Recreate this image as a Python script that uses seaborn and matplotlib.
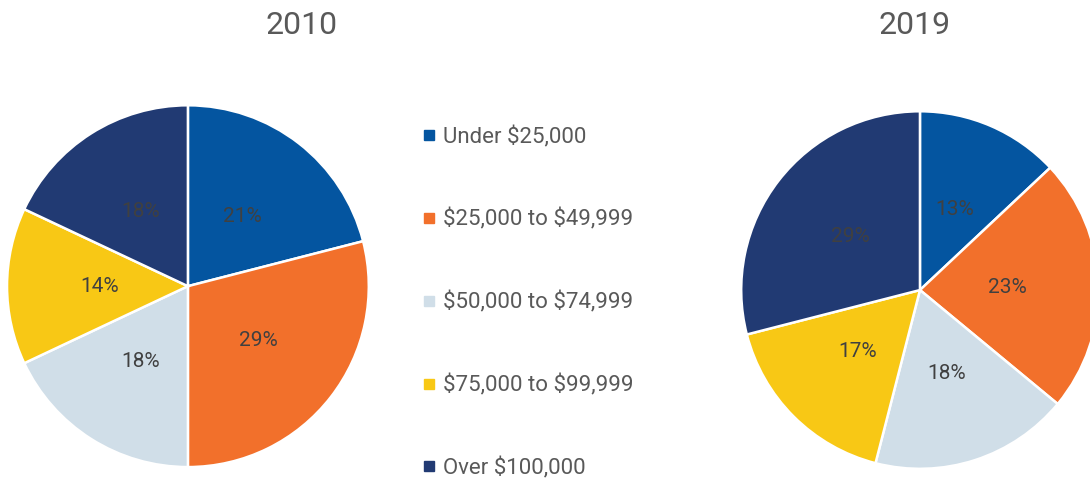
import matplotlib
matplotlib.use("Agg")
import matplotlib.pyplot as plt
import seaborn as sns
from matplotlib.lines import Line2D

# ==============================
# Data
# ==============================

categories = [
    "Under $25,000",
    "$25,000 to $49,999",
    "$50,000 to $74,999",
    "$75,000 to $99,999",
    "Over $100,000",
]
share_2010 = [21, 29, 18, 14, 18]
share_2019 = [13, 23, 18, 17, 29]
years = ["2010", "2019"]

colors = ["#0455A0", "#F2702B", "#D0DEE8", "#F8C815", "#213A73"]

sns.set_style("white")
plt.rcParams["font.family"] = ["Roboto", "DejaVu Sans"]

fig = plt.figure(figsize=(10.9, 4.83), dpi=100)

# axes boxes in figure fractions (pie fills the box)
ax_left = fig.add_axes([0.0064, 0.033, 0.332, 0.749])
ax_right = fig.add_axes([0.680, 0.029, 0.328, 0.741])


def draw_pie(ax, values):
    wedges, texts, autotexts = ax.pie(
        values,
        colors=colors,
        startangle=90,
        counterclock=False,
        radius=1,
        autopct="%d%%",
        pctdistance=0.49,
        wedgeprops=dict(edgecolor="white", linewidth=1.8),
        textprops=dict(color="#404040", fontsize=15),
    )
    ax.set_xlim(-1, 1)
    ax.set_ylim(-1, 1)
    ax.set_aspect("equal")
    ax.axis("off")
    return wedges


draw_pie(ax_left, share_2010)
draw_pie(ax_right, share_2019)

fig.text(302 / 1090, 1 - 25 / 483, years[0], ha="center", va="center",
         fontsize=23, color="#595959")
fig.text(915 / 1090, 1 - 25 / 483, years[1], ha="center", va="center",
         fontsize=23, color="#595959")

handles = [
    Line2D([0], [0], marker="s", linestyle="none", markersize=7,
           markerfacecolor=c, markeredgecolor=c)
    for c in colors
]
fig.legend(
    handles, [c.replace("$", r"\$") for c in categories],
    loc="upper left",
    bbox_to_anchor=(411 / 1090, 1 - 115 / 483),
    frameon=False,
    fontsize=16,
    labelcolor="#595959",
    handlelength=0.6,
    handletextpad=0.35,
    labelspacing=2.73,
    borderpad=0,
)

plt.savefig("out.png", dpi=100)
